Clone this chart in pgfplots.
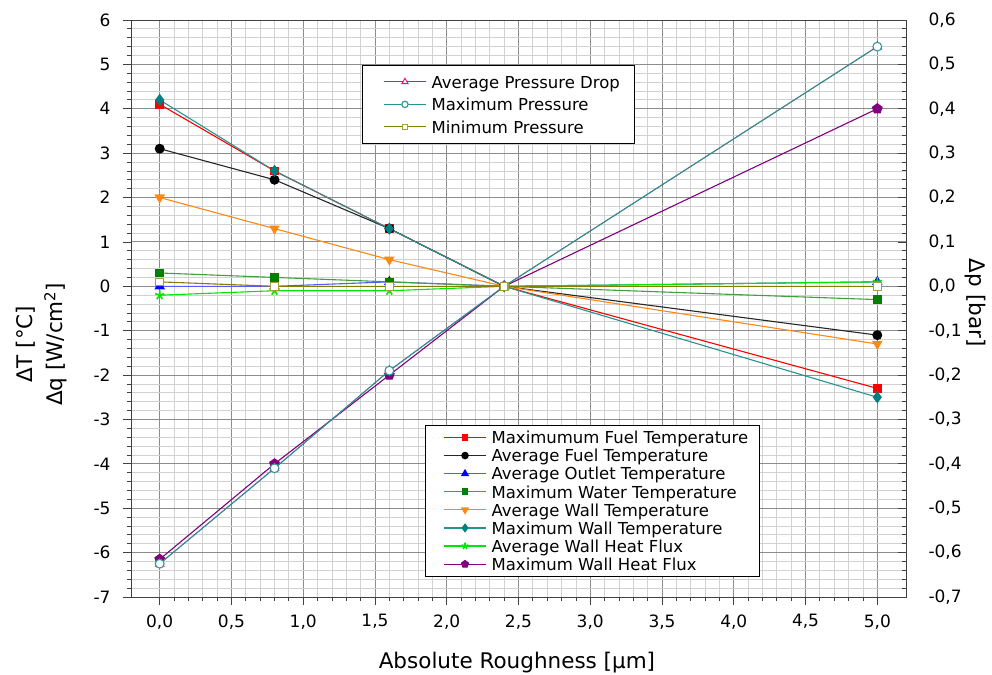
\documentclass[border=0pt]{standalone}
\usepackage{fontspec}
\setmainfont{DejaVu Sans}
\usepackage{pgfplots}
\usepackage{pgfplotstable}
\pgfplotsset{compat=1.18}
\usetikzlibrary{plotmarks}

\definecolor{cRed}{RGB}{255,0,0}
\definecolor{cBlue}{RGB}{0,0,255}
\definecolor{cDkGreen}{RGB}{0,128,0}
\definecolor{cOrange}{RGB}{255,135,20}
\definecolor{cTeal}{RGB}{0,128,128}
\definecolor{cLime}{RGB}{0,230,0}
\definecolor{cPurple}{RGB}{128,0,128}
\definecolor{cPink}{RGB}{255,0,128}
\definecolor{cOlive}{RGB}{128,128,0}

% temperature / heat-flux deviations
\pgfplotstableread{
x    maxfuel avgfuel outlet water wall maxwall flux maxflux
0.0  4.1     3.1     0.0    0.3   2.0  4.2     -0.2 -6.15
0.8  2.6     2.4     0.0    0.2   1.3  2.6     -0.1 -4.0
1.6  1.3     1.3     0.1    0.1   0.6  1.3     -0.1 -2.0
2.4  0.0     0.0     0.0    0.0   0.0  0.0     0.0  0.0
5.0  -2.3    -1.1    0.1    -0.3  -1.3 -2.5    0.1  4.0
}\temps

% pressure deviations
\pgfplotstableread{
x    avgdrop maxp    minp
0.0  -0.625  -0.625  0.01
0.8  -0.41   -0.41   0.0
1.6  -0.19   -0.19   0.0
2.4  0.0     0.0     0.0
5.0  0.54    0.54    0.0
}\press

\pgfplotsset{
  every axis/.append style={
    scale only axis, width=775pt, height=577pt,
    at={(0,0)}, anchor=south west,
    xmin=-0.2, xmax=5.2,
    /pgf/number format/assume math mode=true,
    tick label style={font=\fontsize{17}{19}\selectfont},
    label style={font=\fontsize{21.5}{30}\selectfont},
    axis line style={black!75, line width=0.8pt},
    major tick length=8pt, minor tick length=4pt,
    every tick/.style={black!75, line width=0.8pt},
    legend cell align=left,
    every axis plot/.append style={line width=1.1pt, mark size=4.4pt},
  },
  % line - marker - line sample: two short strokes with the marker between
  legend image code/.code={%
    \path (0pt,0pt);
    \draw[#1, mark=none] (8pt,0pt) -- (50pt,0pt);
    \path[#1, mark repeat=2, mark phase=2, draw=none]
      plot coordinates {(8pt,0pt) (29pt,0pt) (50pt,0pt)};},
  legend image post style={line width=1.2pt, every mark/.append style={scale=0.72}},
  mylegend/.style={fill=white, font=\fontsize{16.5}{18}\selectfont, column sep=4pt,
    nodes={inner sep=1pt, text height=14pt, text depth=1.5pt}},
}

\begin{document}
\begin{tikzpicture}
\path[use as bounding box] (-131pt,-77pt) rectangle (861pt,597pt);

\begin{axis}[
  ymin=-7, ymax=6,
  xtick={0,0.5,...,5.0}, minor x tick num=4,
  ytick={-7,-6,...,6}, minor y tick num=4,
  xtick pos=bottom, ytick pos=left, tick align=outside,
  grid=both,
  major grid style={black!45, line width=0.9pt},
  minor grid style={black!18, line width=0.8pt},
  xticklabel style={yshift=-6pt, /pgf/number format/.cd, fixed, fixed zerofill, precision=1, use comma},
  yticklabel style={xshift=-9pt},
  xlabel={Absolute Roughness [µm]},
  xlabel style={at={(axis description cs:0.498,-0.113)}, anchor=center},
  ylabel={ΔT [°C]\\Δq [W/cm\textsuperscript{2}]},
  ylabel style={at={(axis description cs:-0.115,0.438)}, anchor=center, align=center},
  legend style={mylegend, draw=black, line width=0.8pt, at={(0.3794,0.035)}, anchor=south west,
    row sep=0.6pt, inner xsep=10pt, inner ysep=3.5pt},
]
\addplot[color=cRed, mark=square*, mark size=3.8pt] table[y=maxfuel] {\temps};
\addlegendentry{Maximumum Fuel Temperature}
\addplot[color=black!85, mark=*, mark options={fill=black, draw=black}] table[y=avgfuel] {\temps};
\addlegendentry{Average Fuel Temperature}
\addplot[color=cBlue!65, mark=triangle*, mark size=5pt, mark options={fill=cBlue, draw=cBlue}] table[y=outlet] {\temps};
\addlegendentry{Average Outlet Temperature}
\addplot[color=cDkGreen!75, mark=square*, mark size=3.8pt, mark options={fill=cDkGreen, draw=cDkGreen}] table[y=water] {\temps};
\addlegendentry{Maximum Water Temperature}
\addplot[color=cOrange, mark=triangle*, mark size=5pt, mark options={rotate=180, fill=cOrange, draw=cOrange}] table[y=wall] {\temps};
\addlegendentry{Average Wall Temperature}
\addplot[color=cTeal!85, mark=diamond*, mark size=5.2pt, mark options={fill=cTeal, draw=cTeal}] table[y=maxwall] {\temps};
\addlegendentry{Maximum Wall Temperature}
\addplot[color=cLime, mark=star, mark size=4.8pt, mark options={line width=1.6pt, draw=cLime}] table[y=flux] {\temps};
\addlegendentry{Average Wall Heat Flux}
\addplot[color=cPurple, mark=pentagon*, mark size=5pt, mark options={fill=cPurple, draw=cPurple}] table[y=maxflux] {\temps};
\addlegendentry{Maximum Wall Heat Flux}
\end{axis}

\begin{axis}[
  ymin=-0.7, ymax=0.6,
  axis x line=none, axis y line*=right,
  ytick={-0.7,-0.6,-0.5,-0.4,-0.3,-0.2,-0.1,0,0.1,0.2,0.3,0.4,0.5,0.6},
  minor y tick num=4, tick align=inside,
  yticklabel style={xshift=19pt, /pgf/number format/.cd, fixed, fixed zerofill, precision=1, use comma},
  ylabel={Δp [bar]},
  ylabel style={at={(axis description cs:1.089,0.51)}, anchor=center, rotate=180},
  legend style={mylegend, draw=black, line width=0.8pt, at={(0.298,0.922)}, anchor=north west,
    row sep=5pt, inner xsep=13pt, inner ysep=7.75pt},
]
\addplot[color=cPink, line width=0.7pt, mark=triangle*, mark size=5pt, mark options={fill=white, draw=cPink, line width=0.9pt}] table[y=avgdrop] {\press};
\addlegendentry{Average Pressure Drop}
\addplot[color=cTeal!85, mark=*, mark options={fill=white, draw=cTeal!80}] table[y=maxp] {\press};
\addlegendentry{Maximum Pressure}
\addplot[color=cOlive, mark=square*, mark size=3.8pt, mark options={fill=white, draw=cOlive!75}] table[y=minp] {\press};
\addlegendentry{Minimum Pressure}
\end{axis}
\end{tikzpicture}
\end{document}
